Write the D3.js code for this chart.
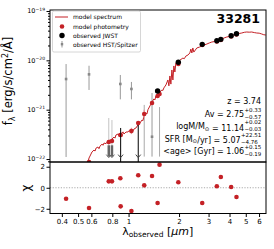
<!DOCTYPE html>
<html>
<head>
<meta charset="utf-8">
<script src="https://cdn.jsdelivr.net/npm/d3@7"></script>
<style>
  body { margin: 0; background: #fff; }
  svg { display: block; font-family: "DejaVu Sans", sans-serif; }
</style>
</head>
<body>
<div id="sed"></div>
<script>
// model spectrum (micron, erg/s/cm2/A)
const specLam = [0.573, 0.581, 0.589, 0.605, 0.622, 0.631, 0.640, 0.657, 0.666, 0.676, 0.695, 0.704, 0.714, 0.734, 0.744, 0.754,
  0.775, 0.785, 0.796, 0.819, 0.830, 0.841, 0.865, 0.877, 0.889, 0.913, 0.926, 0.939, 0.965, 0.992, 1.005, 1.019, 1.048, 1.062,
  1.077, 1.107, 1.137, 1.153, 1.169, 1.202, 1.218, 1.235, 1.269, 1.287, 1.305, 1.341, 1.360, 1.378, 1.416, 1.436, 1.456, 1.496,
  1.538, 1.580, 1.602, 1.624, 1.670, 1.716, 1.740, 1.764, 1.788, 1.813, 1.838, 1.863, 1.889, 1.915, 1.968, 2.023, 2.108, 2.150,
  2.196, 2.260, 2.320, 2.352, 2.385, 2.417, 2.451, 2.553, 2.640, 2.735, 2.830, 2.929, 3.030, 3.136, 3.250, 3.359, 3.480, 3.597,
  3.720, 3.852, 3.990, 4.125, 4.270, 4.418, 4.570, 4.732, 4.900, 5.068, 5.240, 5.427, 5.620, 5.812, 6.010, 6.223, 6.400, 6.576];
const specFlux = [8.7e-23, 1.05e-22, 1.15e-22, 1.39e-22, 1.52e-22, 1.45e-22, 1.67e-22, 1.75e-22, 1.62e-22, 1.83e-22, 2.01e-22, 1.90e-22,
  2.11e-22, 2.05e-22, 2.20e-22, 2.32e-22, 2.43e-22, 2.30e-22, 2.54e-22, 2.79e-22, 2.65e-22, 3.07e-22, 3.21e-22, 3.05e-22, 3.21e-22,
  3.37e-22, 3.55e-22, 3.21e-22, 3.53e-22, 3.53e-22, 3.75e-22, 3.70e-22, 3.88e-22, 3.70e-22, 4.06e-22, 4.26e-22, 4.89e-22, 5.10e-22,
  5.37e-22, 6.17e-22, 6.00e-22, 7.43e-22, 8.55e-22, 8.20e-22, 1.00e-21, 1.19e-21, 1.30e-21, 1.43e-21, 1.65e-21, 1.58e-21, 1.90e-21,
  2.08e-21, 2.28e-21, 2.51e-21, 2.45e-21, 2.76e-21, 3.17e-21, 4.00e-21, 3.04e-21, 4.82e-21, 3.30e-21, 6.38e-21, 4.00e-21, 7.69e-21,
  5.80e-21, 8.84e-21, 9.27e-21, 1.01e-20, 1.11e-20, 1.08e-20, 1.22e-20, 1.28e-20, 1.41e-20, 1.69e-20, 1.41e-20, 1.78e-20, 1.47e-20,
  1.78e-20, 1.85e-20, 1.95e-20, 2.05e-20, 2.14e-20, 2.25e-20, 2.35e-20, 2.40e-20, 2.46e-20, 2.62e-20, 2.70e-20, 2.85e-20, 2.97e-20,
  3.05e-20, 3.26e-20, 3.30e-20, 3.42e-20, 3.50e-20, 3.58e-20, 3.70e-20, 3.75e-20, 3.72e-20, 3.75e-20, 3.65e-20, 3.58e-20, 3.55e-20,
  3.42e-20, 3.30e-20, 3.26e-20];

// photometric bands, model photometry and chi
const bandLam = [0.424, 0.581, 0.762, 0.796, 0.893, 0.897, 1.04, 1.142, 1.24, 1.38, 1.49, 1.53, 1.98, 2.75, 3.36, 3.55, 4.09, 4.40];
const modelFlux = [5e-23, 8.7e-23, 2.21e-22, 2.32e-22, 3.07e-22, 3.07e-22, 3.70e-22, 5.37e-22, 8.17e-22, 1.37e-21, 1.90e-21, 2.08e-21,
  8.42e-21, 2.04e-20, 2.40e-20, 2.58e-20, 3.04e-20, 3.33e-20];
const chi = [-1.04, -1.93, 0.61, 0.61, 0.90, -1.77, -2.21, 1.19, 0.23, 1.12, -1.45, 2.2, 0.52, -1.45, 0.14, 1.02, 0.07, -0.88];
const modelErrLam = [1.04, 1.24];
const modelErrLo = [3.2e-22, 6.9e-22];
const modelErrHi = [4.3e-22, 1.0e-21];

// observed JWST
const jwstLam = [1.49, 1.98, 2.75, 3.36, 3.55, 4.09, 4.40];
const jwstFlux = [2.39e-21, 9.14e-21, 2.11e-20, 2.50e-20, 2.66e-20, 3.15e-20, 3.46e-20];
const jwstLimLam = [0.897, 1.142];
const jwstLimHi = [4.26e-22, 4.89e-22];

// observed HST/Spitzer
const hstLam = [0.424, 0.581, 0.893, 1.04, 1.38];
const hstFlux = [4.18e-21, 5.20e-21, 3.32e-21, 2.63e-21, 2.83e-22];
const hstLo = [1.10e-22, 2.51e-21, 1.62e-21, 1.62e-21, 1.12e-22];
const hstHi = [8.41e-21, 7.77e-21, 5.05e-21, 3.65e-21, 2.18e-21];
const hstLimLam = [0.762, 0.796, 1.24, 1.53];
const hstLimHi = [6.79e-22, 6.17e-22, 1.25e-21, 1.13e-21];

const xTicks = [0.4, 0.5, 0.6, 0.8, 1, 2, 3, 4, 5, 6];
const yTicks = [1e-22, 1e-21, 1e-20, 1e-19];
const yTickExp = ["−22", "−21", "−20", "−19"];
const chiTicks = [-2, 0, 2];

const width = 274, height = 249;
const pLeft = 50, pRight = 266, pTop = 10, pMid = 162, pBottom = 213.5;
const red = "#c42126";

const x = d3.scaleLog().domain([0.34, 6.6]).range([pLeft, pRight]);
const y = d3.scaleLog().domain([Math.pow(10, -22.06), Math.pow(10, -18.98)]).range([pMid, pTop]);
const yc = d3.scaleLinear().domain([-2.45, 2.45]).range([pBottom, pMid]);

const svg = d3.select("#sed").append("svg")
  .attr("width", width)
  .attr("height", height);

svg.append("clipPath").attr("id", "clipMain")
  .append("rect").attr("x", pLeft).attr("y", pTop).attr("width", pRight - pLeft).attr("height", pMid - pTop);
svg.append("clipPath").attr("id", "clipChi")
  .append("rect").attr("x", pLeft).attr("y", pMid).attr("width", pRight - pLeft).attr("height", pBottom - pMid);

const main = svg.append("g").attr("clip-path", "url(#clipMain)");

// HST/Spitzer error bars
hstLam.forEach(function(l, i) {
  main.append("line")
    .attr("x1", x(l)).attr("x2", x(l))
    .attr("y1", y(hstHi[i])).attr("y2", y(hstLo[i]))
    .attr("stroke", "#999").attr("stroke-width", 1);
  main.append("rect")
    .attr("x", x(l) - 1.3).attr("y", y(hstFlux[i]) - 1.3)
    .attr("width", 2.6).attr("height", 2.6)
    .attr("fill", "#888");
});
hstLimLam.forEach(function(l, i) {
  main.append("line")
    .attr("x1", x(l)).attr("x2", x(l))
    .attr("y1", y(hstLimHi[i])).attr("y2", y(1.12e-22))
    .attr("stroke", i < 2 ? "#c4c4c4" : "#aaa").attr("stroke-width", 1);
  if (i < 2) {
    main.append("line")
      .attr("x1", x(l)).attr("x2", x(l))
      .attr("y1", y(1.9e-22)).attr("y2", y(1.12e-22))
      .attr("stroke", "#666").attr("stroke-width", 2.5);
    main.append("path")
      .attr("d", "M" + (x(l) - 2.5) + "," + (y(1.12e-22) - 2) + "L" + x(l) + "," + (y(1.12e-22) + 1) + "L" + (x(l) + 2.5) + "," + (y(1.12e-22) - 2))
      .attr("fill", "none").attr("stroke", "#666").attr("stroke-width", 1);
  }
});

// model spectrum
main.append("path")
  .datum(specLam.map(function(l, i) { return [l, specFlux[i]]; }))
  .attr("fill", "none")
  .attr("stroke", red)
  .attr("stroke-width", 1)
  .attr("stroke-linejoin", "round")
  .attr("d", d3.line().x(function(d) { return x(d[0]); }).y(function(d) { return y(d[1]); }));

// model photometry
modelErrLam.forEach(function(l, i) {
  main.append("line")
    .attr("x1", x(l)).attr("x2", x(l))
    .attr("y1", y(modelErrHi[i])).attr("y2", y(modelErrLo[i]))
    .attr("stroke", "#e6a2a2").attr("stroke-width", 1.5);
});
main.selectAll(".model")
  .data(bandLam)
  .enter().append("circle")
  .attr("cx", function(d) { return x(d); })
  .attr("cy", function(d, i) { return y(modelFlux[i]); })
  .attr("r", 2.3)
  .attr("fill", red);

// JWST
jwstLimLam.forEach(function(l, i) {
  const yb = y(1.12e-22);
  main.append("line")
    .attr("x1", x(l)).attr("x2", x(l))
    .attr("y1", y(jwstLimHi[i])).attr("y2", pMid)
    .attr("stroke", "#000").attr("stroke-width", 1);
  main.append("path")
    .attr("d", "M" + (x(l) - 2.5) + "," + (yb - 2) + "L" + x(l) + "," + (yb + 1) + "L" + (x(l) + 2.5) + "," + (yb - 2))
    .attr("fill", "none").attr("stroke", "#444").attr("stroke-width", 1);
});
main.selectAll(".jwst")
  .data(jwstLam)
  .enter().append("circle")
  .attr("cx", function(d) { return x(d); })
  .attr("cy", function(d, i) { return y(jwstFlux[i]); })
  .attr("r", 2.7)
  .attr("fill", "#000");

// chi panel
const chiG = svg.append("g").attr("clip-path", "url(#clipChi)");
chiG.append("line")
  .attr("x1", pLeft).attr("x2", pRight)
  .attr("y1", yc(0)).attr("y2", yc(0))
  .attr("stroke", "#aaa").attr("stroke-width", 1)
  .attr("stroke-dasharray", "1.2,1.5");
chiG.selectAll(".chi")
  .data(bandLam)
  .enter().append("circle")
  .attr("cx", function(d) { return x(d); })
  .attr("cy", function(d, i) { return yc(chi[i]); })
  .attr("r", 2.3)
  .attr("fill", red);

// axes
const yMinor = [];
[-23, -22, -21, -20].forEach(function(e) {
  for (let m = 2; m <= 9; m++) yMinor.push(m * Math.pow(10, e));
});
svg.append("g")
  .attr("transform", "translate(" + pLeft + ",0)")
  .call(d3.axisLeft(y).tickValues(yMinor.filter(function(v) { return v > y.domain()[0] && v < y.domain()[1]; })).tickSize(2).tickFormat(""))
  .call(function(g) { g.select(".domain").remove(); });
svg.append("g")
  .attr("transform", "translate(" + pLeft + ",0)")
  .call(d3.axisLeft(y).tickValues(yTicks).tickSize(3.5).tickFormat(""))
  .call(function(g) { g.select(".domain").remove(); });

yTicks.forEach(function(v, i) {
  const t = svg.append("text")
    .attr("x", pLeft - 5)
    .attr("y", y(v) + 2.4)
    .attr("text-anchor", "end")
    .attr("font-size", 6.5);
  t.append("tspan").text("10");
  t.append("tspan").attr("dy", -2.8).attr("font-size", 4.5).text(yTickExp[i]);
});

svg.append("g")
  .attr("transform", "translate(" + pLeft + ",0)")
  .call(d3.axisLeft(yc).tickValues(chiTicks).tickSize(3.5).tickPadding(1.5)
    .tickFormat(function(d) { return d < 0 ? "−" + Math.abs(d) : d; }))
  .call(function(g) {
    g.select(".domain").remove();
    g.selectAll("text").attr("font-size", 7).attr("font-family", "DejaVu Sans");
  });

svg.append("g")
  .attr("transform", "translate(0," + pBottom + ")")
  .call(d3.axisBottom(x).tickValues(xTicks).tickSize(3.5).tickPadding(2).tickFormat(d3.format("")))
  .call(function(g) {
    g.select(".domain").remove();
    g.selectAll("text").attr("font-size", 7).attr("font-family", "DejaVu Sans");
  });

// frames
svg.append("rect").attr("x", pLeft).attr("y", pTop).attr("width", pRight - pLeft).attr("height", pMid - pTop)
  .attr("fill", "none").attr("stroke", "#000").attr("stroke-width", 1);
svg.append("rect").attr("x", pLeft).attr("y", pMid).attr("width", pRight - pLeft).attr("height", pBottom - pMid)
  .attr("fill", "none").attr("stroke", "#000").attr("stroke-width", 1);

// legend
const lg = svg.append("g");
lg.append("rect").attr("x", 52.5).attr("y", 11).attr("width", 88).attr("height", 41).attr("rx", 1.5)
  .attr("fill", "#fff").attr("fill-opacity", 0.85).attr("stroke", "#ccc").attr("stroke-width", 0.8);
lg.append("line").attr("x1", 55).attr("x2", 68).attr("y1", 17).attr("y2", 17).attr("stroke", red).attr("stroke-width", 1);
lg.append("circle").attr("cx", 62).attr("cy", 26.5).attr("r", 2.3).attr("fill", red);
lg.append("circle").attr("cx", 62).attr("cy", 35.5).attr("r", 2.7).attr("fill", "#000");
lg.append("line").attr("x1", 62).attr("x2", 62).attr("y1", 41).attr("y2", 47.5).attr("stroke", "#999");
lg.append("rect").attr("x", 60.8).attr("y", 43).attr("width", 2.4).attr("height", 2.4).attr("fill", "#888");
["model spectrum", "model photometry", "observed JWST", "observed HST/Spitzer"].forEach(function(s, i) {
  lg.append("text").attr("x", 73).attr("y", [19, 28.5, 37.5, 46.5][i]).attr("font-size", 6).text(s);
});

// title
svg.append("text").attr("x", 260).attr("y", 23).attr("text-anchor", "end")
  .attr("font-size", 12.5).attr("font-weight", "bold").text("33281");

// stats
const xr = 261;
svg.append("text").attr("x", xr).attr("y", 104).attr("text-anchor", "end").attr("font-size", 8).text("z = 3.74");

function stat(yb, parts, up, lo) {
  const su = svg.append("text").attr("font-size", 5.5).attr("y", yb - 5).text(up);
  const sl = svg.append("text").attr("font-size", 5.5).attr("y", yb + 2).text(lo);
  const w = Math.max(su.node().getComputedTextLength(), sl.node().getComputedTextLength());
  const x0 = xr - w;
  su.attr("x", x0 + 0.3);
  sl.attr("x", x0 + 0.3);
  const t = svg.append("text").attr("x", x0).attr("y", yb).attr("text-anchor", "end").attr("font-size", 8);
  parts.forEach(function(p) {
    if (p.sub) {
      t.append("tspan").attr("dy", 1.5).attr("font-size", 5.5).text(p.s);
      t.append("tspan").attr("dy", -1.5).text("");
    } else {
      t.append("tspan").text(p.s);
    }
  });
}
stat(117, [{s: "Av = 2.75"}], "+0.33", "−0.57");
stat(129, [{s: "logM/M"}, {s: "⊙", sub: true}, {s: " = 11.14"}], "+0.02", "−0.03");
stat(141.5, [{s: "SFR [M"}, {s: "⊙", sub: true}, {s: "/yr] = 5.07"}], "+22.51", "−4.76");
stat(153.5, [{s: "<age> [Gyr] = 1.06"}], "+0.15", "−0.19");

// axis labels
const xl = svg.append("text").attr("x", 157.7).attr("y", 234.5).attr("text-anchor", "middle").attr("font-size", 11);
xl.append("tspan").text("λ");
xl.append("tspan").attr("dy", 2.5).attr("font-size", 7.5).text("observed");
xl.append("tspan").attr("dy", -2.5).text(" [");
xl.append("tspan").attr("font-style", "italic").text("µm");
xl.append("tspan").text("]");

const yl = svg.append("text").attr("transform", "translate(12,81) rotate(-90)")
  .attr("text-anchor", "middle").attr("font-size", 11.5);
yl.append("tspan").text("f");
yl.append("tspan").attr("dy", 2.5).attr("font-size", 8).text("λ");
yl.append("tspan").attr("dy", -2.5).text(" [erg/s/cm");
yl.append("tspan").attr("dy", -4).attr("font-size", 8).text("2");
yl.append("tspan").attr("dy", 4).text("/Å]");

svg.append("text").attr("transform", "translate(29.5,188) rotate(-90)")
  .attr("text-anchor", "middle").attr("font-size", 12).text("χ");
</script>
</body>
</html>
